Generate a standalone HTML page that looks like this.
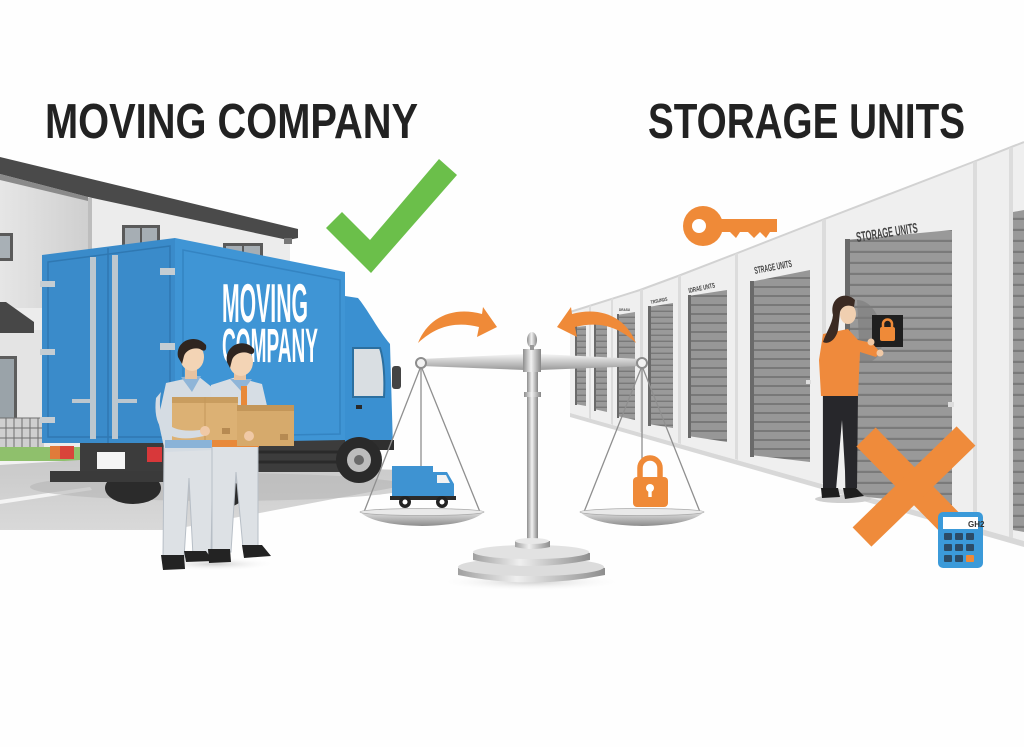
<!DOCTYPE html>
<html><head><meta charset="utf-8"><style>
html,body{margin:0;padding:0;background:#fff;}
svg{display:block;}
text{font-family:"Liberation Sans",sans-serif;}
</style></head><body>
<svg width="1024" height="747" viewBox="0 0 1024 747" xmlns="http://www.w3.org/2000/svg">
<defs>
 <linearGradient id="post" x1="0" x2="1" y1="0" y2="0"><stop offset="0" stop-color="#8e8e8e"/><stop offset="0.45" stop-color="#f2f2f2"/><stop offset="1" stop-color="#858585"/></linearGradient>
 <linearGradient id="beam" x1="0" x2="0" y1="0" y2="1"><stop offset="0" stop-color="#f6f6f6"/><stop offset="1" stop-color="#9a9a9a"/></linearGradient>
 <linearGradient id="pan" x1="0" x2="0" y1="0" y2="1"><stop offset="0" stop-color="#f0f0f0"/><stop offset="1" stop-color="#8c8c8c"/></linearGradient>
 <linearGradient id="disc" x1="0" x2="1" y1="0" y2="0"><stop offset="0" stop-color="#a0a0a0"/><stop offset="0.4" stop-color="#efefef"/><stop offset="1" stop-color="#8e8e8e"/></linearGradient>
 <linearGradient id="gable" x1="0" x2="1" y1="0" y2="0"><stop offset="0" stop-color="#e6e6e6"/><stop offset="1" stop-color="#cfcfcf"/></linearGradient>
 <linearGradient id="road" x1="0" x2="0" y1="0" y2="1"><stop offset="0" stop-color="#c9c9c9"/><stop offset="1" stop-color="#d9d9d9"/></linearGradient>
 <pattern id="slat" width="8" height="6" patternUnits="userSpaceOnUse"><rect width="8" height="6" fill="#9a9a9a"/><rect y="4.6" width="8" height="1.4" fill="#797979"/></pattern>
 <pattern id="slat2" width="10" height="9" patternUnits="userSpaceOnUse"><rect width="10" height="9" fill="#979797"/><rect y="7" width="10" height="2" fill="#787878"/></pattern>
 <pattern id="slat3" width="10" height="11" patternUnits="userSpaceOnUse"><rect width="10" height="11" fill="#999999"/><rect y="8.8" width="10" height="2.2" fill="#7a7a7a"/></pattern>
 <radialGradient id="shad" cx="0.5" cy="0.5" r="0.5"><stop offset="0" stop-color="#cfcfcf"/><stop offset="1" stop-color="#ffffff" stop-opacity="0"/></radialGradient>
</defs>

<rect width="1024" height="747" fill="#fefefe"/>

<!-- ================= TITLES ================= -->
<text x="45" y="138" font-size="49" font-weight="bold" fill="#222" textLength="373" lengthAdjust="spacingAndGlyphs">MOVING COMPANY</text>
<text x="648" y="138" font-size="49" font-weight="bold" fill="#222" textLength="317" lengthAdjust="spacingAndGlyphs">STORAGE UNITS</text>

<!-- ================= HOUSE ================= -->
<polygon points="0,170 88,195 290,238 290,470 0,470" fill="#ececec"/>
<polygon points="0,170 88,195 88,308 0,308" fill="url(#gable)"/>
<rect x="88" y="198" width="4" height="55" fill="#bdbdbd"/>
<!-- windows -->
<rect x="0" y="233" width="13" height="28" fill="#5a5a5a"/>
<rect x="0" y="236" width="10" height="22" fill="#a8b0b6"/>
<rect x="122" y="225" width="38" height="22" fill="#5a5a5a"/>
<rect x="125" y="228" width="15" height="19" fill="#a6aeb4"/>
<rect x="142" y="228" width="15" height="19" fill="#a6aeb4"/>
<rect x="223" y="243" width="40" height="14" fill="#5a5a5a"/>
<rect x="226" y="246" width="16" height="11" fill="#a6aeb4"/>
<rect x="244" y="246" width="16" height="11" fill="#a6aeb4"/>
<!-- roof -->
<polygon points="0,157 298,229 298,238 288,240 88,197 0,174" fill="#4a4a4a"/>
<polygon points="0,174 88,197 88,201 0,180" fill="#8a8a8a"/>
<rect x="284" y="238" width="8" height="6" fill="#777"/>
<!-- porch -->
<rect x="0" y="330" width="44" height="120" fill="#e4e4e4"/>
<polygon points="0,302 6,302 34,322 34,333 0,333" fill="#474747"/>
<rect x="0" y="356" width="17" height="95" fill="#5d5d5d"/>
<rect x="0" y="359" width="14" height="90" fill="#9aa3a9"/>
<!-- fence -->
<rect x="0" y="418" width="44" height="30" fill="#cfcfcf"/>
<g stroke="#6f6f6f" stroke-width="1">
 <line x1="0" y1="418" x2="44" y2="418"/><line x1="0" y1="428" x2="44" y2="428"/><line x1="0" y1="438" x2="44" y2="438"/>
 <line x1="6" y1="418" x2="6" y2="448"/><line x1="14" y1="418" x2="14" y2="448"/><line x1="22" y1="418" x2="22" y2="448"/><line x1="30" y1="418" x2="30" y2="448"/><line x1="38" y1="418" x2="38" y2="448"/>
</g>
<rect x="0" y="447" width="82" height="16" fill="#8fc06c"/>
<rect x="0" y="461" width="90" height="4" fill="#f2f2f2"/>

<!-- ================= ROAD ================= -->
<polygon points="0,465 80,460 402,470 402,486 170,530 0,530" fill="url(#road)"/>
<polygon points="0,500 90,487 92,490 0,504" fill="#f4f4f4"/>
<ellipse cx="220" cy="487" rx="190" ry="14" fill="#b5b5b5" opacity="0.6"/>

<!-- ================= TRUCK ================= -->
<rect x="80" y="440" width="268" height="32" fill="#3c3c3c"/>
<g stroke="#2a2a2a" stroke-width="3"><line x1="255" y1="452" x2="345" y2="452"/><line x1="255" y1="462" x2="345" y2="462"/></g>
<ellipse cx="133" cy="488" rx="28" ry="16" fill="#2b2b2b"/>
<ellipse cx="222" cy="494" rx="22" ry="14" fill="#2b2b2b"/>
<rect x="50" y="471" width="115" height="11" fill="#3a3a3a"/>
<rect x="50" y="446" width="24" height="13" fill="#e07b3a"/>
<rect x="60" y="446" width="14" height="13" fill="#d9443a"/>
<rect x="147" y="447" width="15" height="15" fill="#d8383a"/>
<rect x="97" y="452" width="28" height="17" fill="#f5f5f5"/>
<polygon points="42,255 175,238 175,443 42,443" fill="#3a8bca"/>
<polygon points="48,262 170,246 170,437 48,437" fill="none" stroke="#2f78b2" stroke-width="1.5"/>
<line x1="108" y1="248" x2="108" y2="443" stroke="#2f78b2" stroke-width="1.5"/>
<rect x="90" y="257" width="6" height="182" fill="#bcc7cf"/>
<rect x="112" y="255" width="6" height="184" fill="#bcc7cf"/>
<rect x="72" y="399" width="22" height="4" fill="#bcc7cf"/>
<rect x="115" y="399" width="22" height="4" fill="#bcc7cf"/>
<rect x="40" y="281" width="15" height="6" fill="#c4cdd3"/>
<rect x="40" y="349" width="15" height="6" fill="#c4cdd3"/>
<rect x="40" y="417" width="15" height="6" fill="#c4cdd3"/>
<rect x="160" y="268" width="16" height="7" fill="#c4cdd3"/>
<rect x="160" y="343" width="16" height="7" fill="#c4cdd3"/>
<polygon points="175,238 345,272 345,440 175,443" fill="#3f95d5"/>
<polygon points="183,250 340,280 340,434 183,437" fill="none" stroke="#3484c2" stroke-width="1.5"/>
<text x="222" y="322" font-size="55" font-weight="bold" fill="#ffffff" textLength="86" lengthAdjust="spacingAndGlyphs">MOVING</text>
<text x="222" y="362" font-size="48" font-weight="bold" fill="#ffffff" textLength="96" lengthAdjust="spacingAndGlyphs">COMPANY</text>
<path d="M345,296 L358,298 C368,310 378,330 390,344 L393,448 L345,448 Z" fill="#3a90d1"/>
<path d="M353,348 L380,348 C384,360 385,380 384,397 L353,397 Z" fill="#d9dee2" stroke="#2c6f9f" stroke-width="2"/>
<rect x="392" y="366" width="9" height="23" rx="3" fill="#444"/>
<rect x="356" y="405" width="6" height="4" fill="#2a2a2a"/>
<rect x="348" y="440" width="46" height="10" fill="#2f2f2f"/>
<circle cx="359" cy="460" r="23" fill="#2a2a2a"/>
<circle cx="359" cy="460" r="12" fill="#bdbdbd"/>
<circle cx="359" cy="460" r="5" fill="#6a6a6a"/>

<!-- ================= MEN ================= -->
<ellipse cx="215" cy="564" rx="62" ry="7" fill="url(#shad)"/>
<path d="M164,447 L213,447 L211,556 L193,556 L189,478 L184,558 L163,558 Z" fill="#dde1e5" stroke="#b7bec6" stroke-width="1"/>
<path d="M161,555 L184,555 L185,569 L163,570 Z" fill="#232323"/>
<path d="M184,551 L206,551 L213,561 L186,562 Z" fill="#232323"/>
<path d="M166,383 L198,376 L213,388 L215,450 L165,452 L158,420 Z" fill="#d5dce3"/>
<path d="M181,377 L192,392 L201,376 Z" fill="#8fb5d8"/>
<rect x="185" y="366" width="12" height="13" fill="#e8c3a1"/>
<ellipse cx="192" cy="357" rx="12" ry="14" fill="#f3d4b5"/>
<path d="M178,357 C175,340 196,333 206,345 C207,351 204,352 200,349 C194,347 186,350 184,356 L182,364 Z" fill="#2f2520"/>
<rect x="165" y="440" width="49" height="8" fill="#8ab3d8"/>
<path d="M212,446 L258,446 L258,548 L243,548 L236,472 L231,552 L212,552 Z" fill="#dde1e5" stroke="#b7bec6" stroke-width="1"/>
<path d="M208,549 L230,549 L231,562 L209,563 Z" fill="#232323"/>
<path d="M242,545 L262,545 L271,556 L244,558 Z" fill="#232323"/>
<path d="M211,385 L236,377 L262,384 L268,410 L262,446 L212,446 Z" fill="#d6dde4"/>
<path d="M230,379 L242,392 L252,379 Z" fill="#8fb5d8"/>
<rect x="241" y="386" width="6" height="20" fill="#e8893a"/>
<rect x="234" y="368" width="12" height="12" fill="#e8c3a1"/>
<ellipse cx="241" cy="362" rx="12" ry="14" fill="#f3d4b5"/>
<path d="M227,362 C224,345 244,337 254,349 C255,354 252,355 248,353 C242,351 234,354 232,360 L230,368 Z" fill="#2f2520"/>
<rect x="212" y="439" width="47" height="8" fill="#e8893a"/>
<rect x="172" y="397" width="66" height="43" fill="#dcb174"/>
<rect x="172" y="397" width="66" height="6" fill="#c99d5f"/>
<line x1="205" y1="397" x2="205" y2="440" stroke="#c4975a" stroke-width="1"/>
<rect x="222" y="428" width="8" height="6" fill="#b68a52"/>
<rect x="237" y="405" width="57" height="41" fill="#d6aa6c"/>
<rect x="237" y="405" width="57" height="6" fill="#c39659"/>
<rect x="280" y="434" width="8" height="6" fill="#b68a52"/>
<path d="M161,392 C156,420 168,434 200,430 L204,436 C170,444 152,432 156,398 Z" fill="#d5dce3"/>
<circle cx="205" cy="431" r="5" fill="#f0c9a6"/>
<circle cx="249" cy="436" r="5" fill="#f0c9a6"/>

<!-- ================= CHECKMARK ================= -->
<polygon points="326,228 342,212 370,240 439,159 457,175 371,273" fill="#6bbf4a"/>

<!-- ================= STORAGE BUILDING ================= -->
<polygon points="570,312 640,290 678,276 735,254 822,220 973,162 1024,142 1024,541 570,413" fill="#efefef"/>
<polyline points="570,312 640,290 678,276 735,254 822,220 973,162 1024,142" fill="none" stroke="#d2d2d2" stroke-width="2"/>
<polygon points="570,413 1024,541 1024,547 570,417" fill="#d8d8d8"/>
<g fill="#dcdcdc">
 <polygon points="589,306 591,305 591,419 589,418"/>
 <polygon points="611,299 613,298 613,425 611,424"/>
 <polygon points="640,290 643,289 643,433 640,432"/>
 <polygon points="678,276 681,275 681,444 678,443"/>
 <polygon points="735,254 738,253 738,460 735,459"/>
 <polygon points="822,220 826,219 826,484 822,483"/>
 <polygon points="973,162 977,161 977,527 973,526"/>
 <polygon points="1009,148 1013,147 1013,538 1009,537"/>
</g>
<polygon points="575,327 586,326 586,406 575,404" fill="url(#slat)"/>
<polygon points="594,322 607,320 607,412 594,409" fill="url(#slat)"/>
<polygon points="617,315 635,312 635,420 617,416" fill="url(#slat)"/>
<polygon points="648,307 673,303 673,428 648,424" fill="url(#slat)"/>
<polygon points="688,296 727,290 727,442 688,436" fill="url(#slat2)"/>
<polygon points="750,282 810,270 810,462 750,455" fill="url(#slat2)"/>
<polygon points="845,240 952,230 952,505 845,495" fill="url(#slat3)"/>
<polygon points="1013,212 1024,210 1024,532 1013,530" fill="url(#slat3)"/>
<g fill="#6a6a6a">
 <rect x="575" y="326" width="2" height="79"/><rect x="594" y="321" width="2" height="90"/><rect x="617" y="314" width="2" height="104"/>
 <rect x="648" y="306" width="3" height="120"/><rect x="688" y="295" width="3" height="143"/><rect x="750" y="281" width="4" height="176"/>
 <rect x="845" y="239" width="5" height="258"/>
</g>
<rect x="806" y="380" width="5" height="4" fill="#ddd"/>
<rect x="948" y="402" width="6" height="5" fill="#ddd"/>
<g fill="#444" font-weight="bold">
 <text x="857" y="242" font-size="14" transform="rotate(-9 857 242)" textLength="62" lengthAdjust="spacingAndGlyphs">STORAGE UNITS</text>
 <text x="755" y="274" font-size="10" transform="rotate(-11 755 274)" textLength="38" lengthAdjust="spacingAndGlyphs">STRAGE UNITS</text>
 <text x="689" y="293" font-size="7" transform="rotate(-12 689 293)" textLength="27" lengthAdjust="spacingAndGlyphs">IDRAE UNTS</text>
 <text x="651" y="304" font-size="5" transform="rotate(-12 651 304)" textLength="17" lengthAdjust="spacingAndGlyphs">TRSUNDS</text>
 <text x="619" y="311" font-size="4" textLength="11" lengthAdjust="spacingAndGlyphs">DRASU</text>
</g>

<!-- ================= WOMAN ================= -->
<path d="M857,300 C872,300 884,320 882,345 C880,360 868,365 860,362 Z" fill="#7c7c7c" opacity="0.6"/>
<ellipse cx="843" cy="499" rx="28" ry="4" fill="#cfcfcf"/>
<rect x="872" y="315" width="31" height="32" fill="#1f1f1f"/>
<rect x="880" y="327" width="15" height="14" rx="2" fill="#ef8a38"/>
<path d="M883,328 V324 A4.5,4.5 0 0 1 892,324 V328" fill="none" stroke="#ef8a38" stroke-width="2.5"/>
<path d="M823,393 L858,393 L857,488 L846,488 L842,420 L836,490 L823,490 Z" fill="#27272b"/>
<path d="M821,488 L838,488 L840,497 L822,498 Z" fill="#1d1d1d"/>
<path d="M843,488 L856,488 L864,496 L845,499 Z" fill="#1d1d1d"/>
<path d="M823,334 L848,329 L858,340 L872,343 L880,352 L876,357 L860,352 L858,396 L821,396 L819,360 Z" fill="#ef8a3c"/>
<circle cx="871" cy="342" r="3.5" fill="#f0c9a6"/>
<circle cx="880" cy="353" r="3.5" fill="#f0c9a6"/>
<ellipse cx="848" cy="314" rx="8" ry="10" fill="#f0cfb0"/>
<path d="M833,315 C829,298 845,290 855,300 L854,307 C848,304 842,306 840,312 L838,330 C836,340 828,345 823,342 C826,332 832,325 833,315 Z" fill="#3b2a22"/>

<!-- ================= X and CALCULATOR ================= -->
<line x1="866" y1="437" x2="963" y2="536" stroke="#ef8b3b" stroke-width="27"/>
<line x1="966" y1="436" x2="862" y2="537" stroke="#ef8b3b" stroke-width="27"/>
<rect x="938" y="512" width="45" height="56" rx="5" fill="#3b9ad9"/>
<rect x="943" y="517" width="35" height="12" fill="#ffffff"/>
<text x="968" y="527" font-size="8" fill="#333" font-weight="bold">GH2</text>
<g fill="#2c4c66">
 <rect x="944" y="533" width="8" height="7" rx="1"/><rect x="955" y="533" width="8" height="7" rx="1"/><rect x="966" y="533" width="8" height="7" rx="1"/>
 <rect x="944" y="544" width="8" height="7" rx="1"/><rect x="955" y="544" width="8" height="7" rx="1"/><rect x="966" y="544" width="8" height="7" rx="1"/>
 <rect x="944" y="555" width="8" height="7" rx="1"/><rect x="955" y="555" width="8" height="7" rx="1"/>
</g>
<rect x="966" y="555" width="8" height="7" rx="1" fill="#ef8a38"/>

<!-- ================= KEY ================= -->
<circle cx="703" cy="226" r="20" fill="#ef8a38"/>
<circle cx="699" cy="226" r="7" fill="#ffffff"/>
<polygon points="718,219 777,219 777,232 770,232 766,238 760,232 754,238 748,232 740,232 736,238 730,232 718,232" fill="#ef8a38"/>

<!-- ================= SCALE ================= -->
<ellipse cx="531" cy="582" rx="95" ry="9" fill="url(#shad)"/>
<path d="M418,343 C428,318 452,306 482,314 L483,307 L497,327 L477,337 L479,327 C456,321 436,326 418,343 Z" fill="#ef8a38"/>
<path d="M636,343 C626,318 602,306 572,314 L571,307 L557,327 L577,337 L575,327 C598,321 618,326 636,343 Z" fill="#ef8a38"/>
<g stroke="#8f8f8f" stroke-width="1.3" fill="none">
 <line x1="421" y1="366" x2="364" y2="512"/><line x1="421" y1="366" x2="480" y2="512"/><line x1="421" y1="366" x2="421" y2="468"/>
 <line x1="642" y1="366" x2="584" y2="512"/><line x1="642" y1="366" x2="700" y2="512"/><line x1="642" y1="366" x2="642" y2="460"/>
</g>
<rect x="527" y="370" width="11" height="172" fill="url(#post)"/>
<rect x="524" y="392" width="17" height="5" fill="url(#post)"/>
<path d="M458,568 Q531,552 605,568 L605,575 Q531,590 458,575 Z" fill="url(#disc)"/>
<ellipse cx="531" cy="567" rx="73" ry="9" fill="#dcdcdc"/>
<path d="M473,553 Q531,540 590,553 L590,560 Q531,572 473,560 Z" fill="url(#disc)"/>
<ellipse cx="531" cy="552" rx="58" ry="7" fill="#e2e2e2"/>
<path d="M515,541 L550,541 L550,547 Q532,551 515,547 Z" fill="url(#disc)"/>
<ellipse cx="532" cy="541" rx="17" ry="3" fill="#e8e8e8"/>
<polygon points="421,359 524,354 540,354 642,359 642,366 540,370 524,370 421,366" fill="url(#beam)"/>
<rect x="523" y="349" width="18" height="23" fill="url(#post)"/>
<ellipse cx="532" cy="340" rx="5" ry="8" fill="url(#post)"/>
<rect x="530" y="345" width="4" height="5" fill="#999"/>
<circle cx="421" cy="363" r="5" fill="#f2f2f2" stroke="#8d8d8d" stroke-width="2"/>
<circle cx="642" cy="363" r="5" fill="#f2f2f2" stroke="#8d8d8d" stroke-width="2"/>
<rect x="392" y="466" width="41" height="31" fill="#3e93d2"/>
<path d="M433,472 L447,472 L454,484 L454,497 L433,497 Z" fill="#3e93d2"/>
<path d="M437,475 L446,475 L450,483 L437,483 Z" fill="#f2f2f2"/>
<rect x="390" y="496" width="66" height="4" fill="#2b2b2b"/>
<circle cx="405" cy="502" r="6" fill="#222"/><circle cx="405" cy="502" r="2.5" fill="#fff"/>
<circle cx="442" cy="502" r="6" fill="#222"/><circle cx="442" cy="502" r="2.5" fill="#fff"/>
<path d="M640,480 V468 A10,10 0 0 1 660,468 V480" fill="none" stroke="#ef8a38" stroke-width="5.5"/>
<rect x="633" y="477" width="35" height="30" rx="4" fill="#ef8a38"/>
<circle cx="650" cy="488" r="4" fill="#fff"/>
<rect x="648.3" y="489" width="3.4" height="8" fill="#fff"/>
<path d="M360,512 Q421,507 484,512 Q470,525 422,526 Q374,525 360,512 Z" fill="url(#pan)"/>
<ellipse cx="422" cy="512" rx="62" ry="3.5" fill="#e9e9e9" stroke="#a9a9a9" stroke-width="0.8"/>
<path d="M580,512 Q641,507 704,512 Q690,525 642,526 Q594,525 580,512 Z" fill="url(#pan)"/>
<ellipse cx="642" cy="512" rx="62" ry="3.5" fill="#e9e9e9" stroke="#a9a9a9" stroke-width="0.8"/>
</svg>
</body></html>
